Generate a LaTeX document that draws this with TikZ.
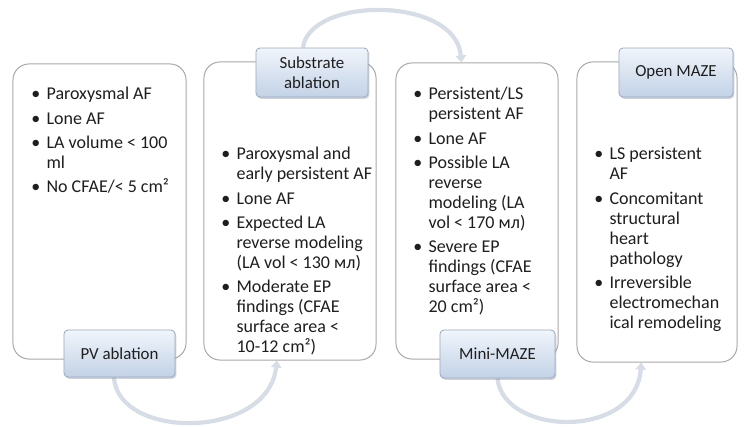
\documentclass[tikz,border=0pt]{standalone}
\usepackage{fontspec}
\setmainfont{Carlito}
\usepackage{xcolor}
\definecolor{ink}{HTML}{1E1E1E}
\definecolor{frame}{HTML}{A8A8A8}
\definecolor{tagtop}{HTML}{F1F5FB}
\definecolor{tagbot}{HTML}{C2D2E6}
\definecolor{tagline}{HTML}{9AABC2}
\definecolor{loopc}{HTML}{D6DDE6}
\usepackage{tikz}
\usetikzlibrary{arrows.meta,shadows,backgrounds}
\tikzset{
    card/.style = {
      draw=frame,
      line width=0.7pt,
      rounded corners=0.4cm,
      fill=white
    },
    stage/.style = {
      draw=tagline,
      line width=0.6pt,
      rounded corners=0.1cm,
      top color=tagtop,
      bottom color=tagbot,
      text=ink,
      align=center,
      font=\fontsize{12}{14.4}\selectfont,
      drop shadow={shadow xshift=0.9pt, shadow yshift=-1.3pt, opacity=0.35}
    },
    crit/.style = {
      anchor=base west,
      inner sep=0pt,
      text=ink,
      font=\fontsize{12.8}{14.2}\selectfont
    },
    loopback/.style = {
      draw=loopc,
      line width=3pt,
      -{Triangle[length=5pt,width=7.5pt]}
    }
}
\newcommand{\bl}{\textbullet}
\newenvironment{crits}{\begin{tabular}[t]{@{}l@{\hspace{4.5pt}}l@{}}}{\end{tabular}}

\begin{document}
\begin{tikzpicture}[x=0.025cm, y=-0.025cm]
      \useasboundingbox (0,0) rectangle (746,427);

      \node[card, minimum width=4.325cm, minimum height=7.375cm] (B1) at (99.5, 211.5) {};
      \node[card, minimum width=4.3cm,   minimum height=7.45cm]  (B2) at (290, 211) {};
      \node[card, minimum width=4.05cm,  minimum height=7.4cm]   (B3) at (477, 211) {};
      \node[card, minimum width=4.0cm,   minimum height=7.5cm]   (B4) at (657, 212) {};

      \node[stage, minimum width=2.775cm, minimum height=1.175cm] (PV)   at (119.5, 353.5) {PV ablation};
      \node[stage, minimum width=2.8cm,   minimum height=1.225cm] (SUB)  at (312, 72.5) {Substrate\\ablation};
      \node[stage, minimum width=2.875cm, minimum height=1.2cm]   (MINI) at (497.5, 354) {Mini-MAZE};
      \node[stage, minimum width=2.85cm,  minimum height=1.225cm] (OPEN) at (676, 72.5) {Open MAZE};

      \node[crit] (T1) at (31, 100) {\begin{crits}
        \bl & Paroxysmal AF\\[3pt]
        \bl & Lone AF\\[3pt]
        \bl & LA volume < 100\\
            & ml\\[3pt]
        \bl & No CFAE/< 5 cm²
      \end{crits}};
      \node[crit] (T2) at (221, 160) {\begin{crits}
        \bl & Paroxysmal and\\
            & early persistent AF\\[3pt]
        \bl & Lone AF\\[3pt]
        \bl & Expected LA\\
            & reverse modeling\\
            & (LA vol < 130 мл)\\[3pt]
        \bl & Moderate EP\\
            & findings (CFAE\\
            & surface area <\\
            & 10-12 cm²)
      \end{crits}};
      \node[crit] (T3) at (413, 100) {\begin{crits}
        \bl & Persistent/LS\\
            & persistent AF\\[3pt]
        \bl & Lone AF\\[3pt]
        \bl & Possible LA\\
            & reverse\\
            & modeling (LA\\
            & vol < 170 мл)\\[3pt]
        \bl & Severe EP\\
            & findings (CFAE\\
            & surface area <\\
            & 20 cm²)
      \end{crits}};
      \node[crit] (T4) at (594, 160) {\begin{crits}
        \bl & LS persistent\\
            & AF\\[3pt]
        \bl & Concomitant\\
            & structural\\
            & heart\\
            & pathology\\[3pt]
        \bl & Irreversible\\
            & electromechan\\
            & ical remodeling
      \end{crits}};

      \begin{scope}[on background layer]
        \draw[loopback] (PV.-103) .. controls (118, 440) and (268, 440) .. (B2.-95);
        \draw[loopback] (SUB.110) .. controls (310, -4) and (456, -4) .. (B3.96);
        \draw[loopback] (MINI.south) .. controls (503, 436) and (636, 440) .. (B4.-96);
      \end{scope}
\end{tikzpicture}
\end{document}
